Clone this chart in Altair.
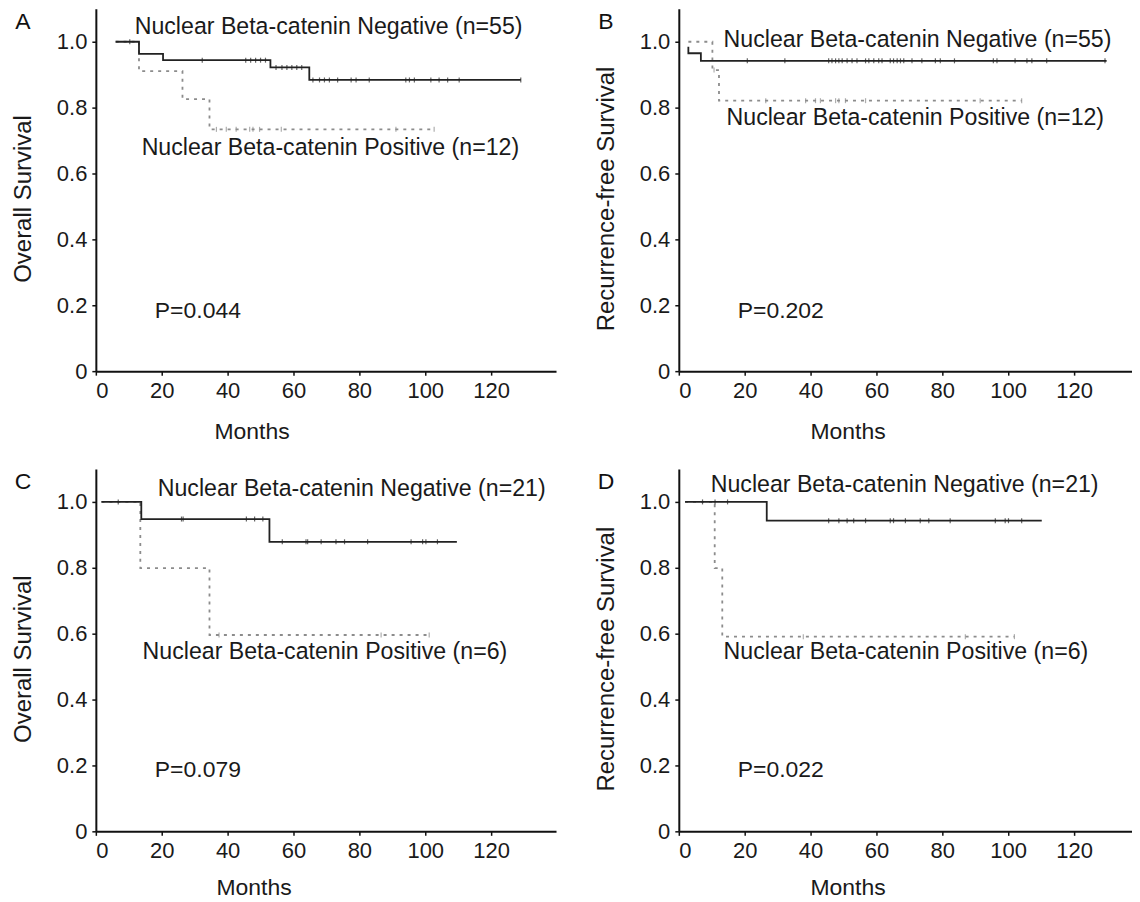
import altair as alt
import pandas as pd

FONT = "Liberation Sans"

# ---------------- data ----------------
# Panel A: Overall survival, n=55 negative / n=12 positive
A_neg_t = [6.0, 13.1, 20.4, 53.0, 64.8, 129.0]
A_neg_s = [1.0, 0.963, 0.944, 0.922, 0.884, 0.884]
A_neg_c = [10.3, 32.3, 45.5, 47.0, 48.5, 50.0, 51.5, 54.7, 56.5, 58.0, 59.5, 61.0,
           62.5, 65.9, 67.9, 69.4, 70.9, 73.4, 77.5, 79.0, 83.0, 94.1, 95.2, 96.7,
           101.7, 104.2, 106.8, 110.3, 129.0]
A_pos_t = [6.0, 13.1, 26.3, 34.5, 102.7]
A_pos_s = [1.0, 0.911, 0.826, 0.734, 0.734]
A_pos_c = [36.6, 39.6, 42.6, 46.7, 47.7, 49.7, 56.3, 91.1, 102.7]

# Panel B: Recurrence-free survival, n=55 / n=12
B_neg_t = [2.9, 2.9, 6.7, 129.9]
B_neg_s = [0.985, 0.965, 0.942, 0.942]
B_neg_c = [20.8, 32.2, 45.5, 46.5, 47.6, 48.6, 49.6, 51.1, 52.6, 54.1, 56.7, 57.7,
           59.2, 60.7, 61.7, 64.2, 65.2, 66.3, 67.3, 68.3, 70.8, 73.8, 77.9, 79.4,
           83.7, 95.5, 96.6, 102.1, 105.7, 107.2, 111.7, 129.4]
B_pos_t = [2.9, 10.2, 12.2, 104.1]
B_pos_s = [1.0, 0.914, 0.821, 0.821]
B_pos_c = [10.7, 26.4, 38.5, 41.5, 43.0, 47.6, 48.6, 50.6, 56.7, 91.5, 104.1]

# Panel C: Overall survival, n=21 / n=6
C_neg_t = [1.7, 13.8, 52.7, 109.6]
C_neg_s = [1.0, 0.948, 0.879, 0.879]
C_neg_c = [6.8, 26.0, 26.5, 45.7, 48.2, 50.7, 56.6, 63.8, 64.3, 68.4, 72.9, 75.5,
           82.5, 95.7, 99.2, 100.2, 103.7]
C_pos_t = [1.7, 13.5, 34.5, 101.2]
C_pos_s = [1.0, 0.799, 0.596, 0.596]
C_pos_c = [37.4, 86.6, 101.2]

# Panel D: Recurrence-free survival, n=21 / n=6
D_neg_t = [1.9, 26.7, 110.2]
D_neg_s = [1.0, 0.943, 0.943]
D_neg_c = [7.2, 11.0, 14.8, 45.5, 48.6, 51.1, 53.1, 56.7, 64.2, 65.2, 68.8, 73.3,
           75.9, 82.4, 96.1, 99.1, 100.1, 104.1]
D_pos_t = [1.9, 10.9, 13.2, 101.9]
D_pos_s = [1.0, 0.799, 0.591, 0.591]
D_pos_c = [37.8, 87.0, 101.9]

labels = ["A", "B", "C", "D"]
y_titles = ["Overall Survival", "Recurrence-free Survival",
            "Overall Survival", "Recurrence-free Survival"]
neg_texts = ["Nuclear Beta-catenin Negative (n=55)", "Nuclear Beta-catenin Negative (n=55)",
             "Nuclear Beta-catenin Negative (n=21)", "Nuclear Beta-catenin Negative (n=21)"]
pos_texts = ["Nuclear Beta-catenin Positive (n=12)", "Nuclear Beta-catenin Positive (n=12)",
             "Nuclear Beta-catenin Positive (n=6)", "Nuclear Beta-catenin Positive (n=6)"]
p_texts = ["P=0.044", "P=0.202", "P=0.079", "P=0.022"]

x_ticks = [0, 20, 40, 60, 80, 100, 120]
y_ticks = [0, 0.2, 0.4, 0.6, 0.8, 1.0]

# annotation anchors in data units (months, survival)
neg_xy = [(11.8, 1.044), (13.6, 1.006), (18.8, 1.040), (9.7, 1.050)]
pos_xy = [(13.9, 0.676), (14.5, 0.769), (14.2, 0.545), (13.6, 0.545)]
p_xy = [(17.9, 0.184), (17.9, 0.184), (17.9, 0.187), (17.9, 0.187)]

# ---------------- helpers ----------------
def step_df(t, s):
    return pd.DataFrame({"t": t, "s": s, "o": list(range(len(t)))})


def level_at(t, s, c):
    val = s[0]
    for ti, si in zip(t, s):
        if ti <= c + 1e-9:
            val = si
    return val


def censor_df(t, s, cs):
    return pd.DataFrame({"t": cs, "s": [level_at(t, s, c) for c in cs]})


NEG_COLOR = "#222222"
POS_COLOR = "#8c8c8c"
TEXT_COLOR = "#1a1a1a"


def panel(i, neg, pos, width, xmax, title_x, title_y):
    xs = alt.Scale(domain=[0, xmax], nice=False, zero=False)
    ys = alt.Scale(domain=[0, 1.1], nice=False)
    xaxis = alt.Axis(values=x_ticks, title="Months", titleX=title_x, titleY=title_y,
                     titleBaseline="middle", titleAlign="center", grid=False)
    yaxis = alt.Axis(values=y_ticks, title=y_titles[i], titleX=-72, titleY=190,
                     titleBaseline="middle", titleAlign="center", grid=False,
                     labelExpr="datum.value == 0 ? '0' : format(datum.value, '.1f')")
    X = alt.X("t:Q", scale=xs, axis=xaxis)
    Y = alt.Y("s:Q", scale=ys, axis=yaxis)

    (nt, ns, nc), (pt, ps, pc) = neg, pos
    pos_line = alt.Chart(step_df(pt, ps)).mark_line(
        interpolate="step-after", color=POS_COLOR, strokeWidth=1.8, strokeDash=[3, 5]
    ).encode(x=X, y=Y, order="o:Q")
    pos_cens = alt.Chart(censor_df(pt, ps, pc)).mark_tick(
        orient="vertical", size=5, thickness=1.2, color=POS_COLOR
    ).encode(x=X, y=Y)
    neg_line = alt.Chart(step_df(nt, ns)).mark_line(
        interpolate="step-after", color=NEG_COLOR, strokeWidth=1.8
    ).encode(x=X, y=Y, order="o:Q")
    neg_cens = alt.Chart(censor_df(nt, ns, nc)).mark_tick(
        orient="vertical", size=5, thickness=1.2, color=NEG_COLOR
    ).encode(x=X, y=Y)

    ann = pd.DataFrame({
        "t": [neg_xy[i][0], pos_xy[i][0]],
        "s": [neg_xy[i][1], pos_xy[i][1]],
        "txt": [neg_texts[i], pos_texts[i]],
    })
    ann_layer = alt.Chart(ann).mark_text(
        align="left", baseline="middle", fontSize=23.2, font=FONT, color=TEXT_COLOR
    ).encode(x=X, y=Y, text="txt:N")

    pv = pd.DataFrame({"t": [p_xy[i][0]], "s": [p_xy[i][1]], "txt": [p_texts[i]]})
    p_layer = alt.Chart(pv).mark_text(
        align="left", baseline="middle", fontSize=23, font=FONT, color=TEXT_COLOR
    ).encode(x=X, y=Y, text="txt:N")

    lab = alt.Chart(pd.DataFrame({"lab": [labels[i]]})).mark_text(
        align="center", baseline="middle", fontSize=23, font=FONT, color="#111111"
    ).encode(text="lab:N", x=alt.value(-73), y=alt.value(13))

    return alt.layer(pos_line, pos_cens, neg_line, neg_cens, ann_layer, p_layer, lab).properties(
        width=width, height=363
    )


W_LEFT, XMAX_LEFT = 461, 139.7
W_RIGHT, XMAX_RIGHT = 454, 137.6

pA = panel(0, (A_neg_t, A_neg_s, A_neg_c), (A_pos_t, A_pos_s, A_pos_c), W_LEFT, XMAX_LEFT, 156, 60)
pB = panel(1, (B_neg_t, B_neg_s, B_neg_c), (B_pos_t, B_pos_s, B_pos_c), W_RIGHT, XMAX_RIGHT, 169, 60)
pC = panel(2, (C_neg_t, C_neg_s, C_neg_c), (C_pos_t, C_pos_s, C_pos_c), W_LEFT, XMAX_LEFT, 158, 56)
pD = panel(3, (D_neg_t, D_neg_s, D_neg_c), (D_pos_t, D_pos_s, D_pos_c), W_RIGHT, XMAX_RIGHT, 169, 56)

chart = alt.vconcat(
    alt.hconcat(pA, pB, spacing=39),
    alt.hconcat(pC, pD, spacing=39),
    spacing=26,
).properties(
    padding={"left": 4, "top": 0, "right": 0, "bottom": 0}
).configure(
    font=FONT
).configure_view(
    stroke=None
).configure_axis(
    labelFont=FONT, titleFont=FONT, labelFontSize=22, titleFontSize=23,
    titleFontWeight="normal", labelColor=TEXT_COLOR, titleColor=TEXT_COLOR,
    domainColor="#111111", domainWidth=2, tickColor="#111111", tickWidth=1.5,
    tickSize=4, labelPadding=5
).configure_axisLeft(
    titleFontSize=24
)

chart.save("out.html", embed_options={"renderer": "svg", "actions": False})
